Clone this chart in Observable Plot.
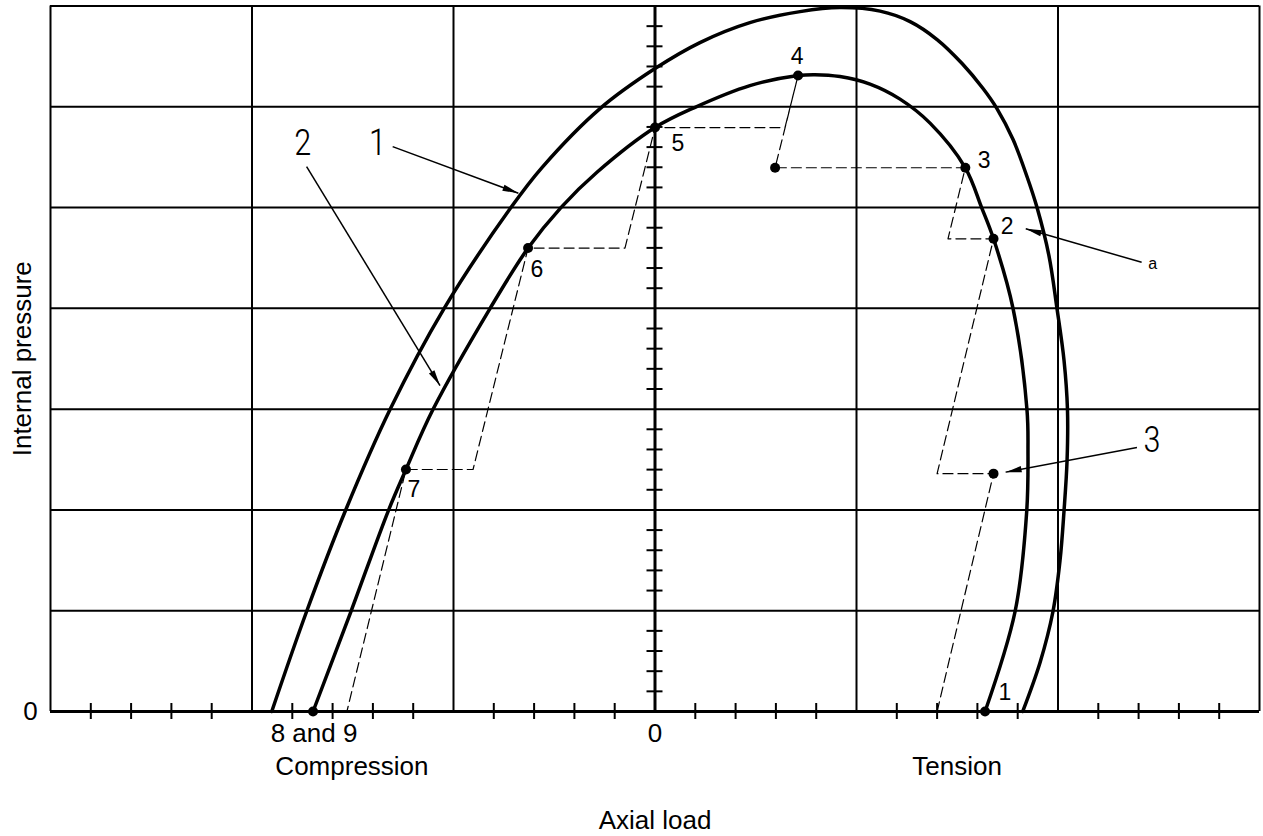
<!DOCTYPE html>
<html>
<head>
<meta charset="utf-8">
<script src="https://cdn.jsdelivr.net/npm/d3@7"></script>
<script src="https://cdn.jsdelivr.net/npm/@observablehq/plot@0.6"></script>
<style>
  html, body { margin: 0; padding: 0; background: #fff; }
  #chart { width: 1263px; height: 836px; }
</style>
</head>
<body>
<div id="chart"></div>
<script>
// ---- data (x: axial load, grid units; y: internal pressure, grid units) ----
const curve1 = [
  [-1.902, 0], [-1.729, 0.992], [-1.536, 1.994], [-1.315, 2.996], [-1.047, 3.998],
  [-0.715, 5.0], [-0.561, 5.397], [-0.273, 5.982], [0, 6.379], [0.223, 6.637],
  [0.471, 6.835], [0.720, 6.944], [0.918, 6.984], [1.117, 6.949], [1.266, 6.845],
  [1.400, 6.667], [1.524, 6.429], [1.628, 6.181], [1.697, 5.982], [1.777, 5.675],
  [1.846, 5.308], [1.896, 5.0], [1.955, 4.524], [1.995, 3.998], [2.030, 3.482],
  [2.047, 2.996], [2.045, 2.490], [2.030, 1.994], [2.010, 1.498], [1.975, 0.992],
  [1.911, 0.486], [1.825, 0]
];
const curve2 = [
  [-1.697, 0], [-1.509, 0.992], [-1.323, 1.994], [-1.236, 2.401], [-1.102, 2.996],
  [-0.819, 3.998], [-0.630, 4.598], [-0.467, 5.0], [-0.288, 5.350], [0, 5.794],
  [0.199, 5.995], [0.471, 6.210], [0.710, 6.310], [0.794, 6.319], [0.918, 6.300],
  [1.067, 6.225], [1.216, 6.076], [1.365, 5.838], [1.540, 5.395], [1.621, 5.0],
  [1.680, 4.69], [1.777, 3.998], [1.846, 2.996], [1.851, 2.589], [1.845, 1.994],
  [1.787, 0.992], [1.638, 0]
];
const loadPath = [
  [1.400, 0], [1.680, 2.36], [1.400, 2.36], [1.680, 4.69], [1.454, 4.69],
  [1.540, 5.395], [0.596, 5.395], [0.710, 6.310], [0.645, 5.794], [0, 5.794],
  [-0.149, 4.598], [-0.630, 4.598], [-0.903, 2.401], [-1.236, 2.401], [-1.529, 0]
];
const pointLabels = ["1", "2", "3", "4", "5", "6", "7"];
const pointsX = [1.638, 1.680, 1.540, 0.710, 0, -0.630, -1.236];
const pointsY = [0, 4.69, 5.395, 6.310, 5.794, 4.598, 2.401];
const labelX = [1.737, 1.747, 1.633, 0.705, 0.114, -0.586, -1.196];
const labelY = [0.188, 4.812, 5.466, 6.498, 5.635, 4.385, 2.202];
const extraDots = [[-1.697, 0], [0.596, 5.395], [1.680, 2.36]];

const leaderText = ["1", "2", "3", "a"];
const leaderTextX = [-1.377, -1.748, 2.467, 2.470];
const leaderTextY = [5.635, 5.635, 2.688, 4.444];
const leaderLines = [
  [-1.302, 5.605, -0.678, 5.142],
  [-1.729, 5.407, -1.067, 3.234],
  [2.392, 2.619, 1.740, 2.375],
  [2.415, 4.457, 1.840, 4.789]
];

const xGrid = [-3, -2, -1, 1, 2, 3];
const yGrid = [1, 2, 3, 4, 5, 6, 7];
const xMinorTicks = [-2.8, -2.6, -2.4, -2.2, -1.8, -1.6, -1.4, -1.2, -0.8, -0.6, -0.4, -0.2,
  0.2, 0.4, 0.6, 0.8, 1.2, 1.4, 1.6, 1.8, 2.2, 2.4, 2.6, 2.8];
const yMinorTicks = [0.2, 0.4, 0.6, 0.8, 1.2, 1.4, 1.6, 1.8, 2.2, 2.4, 2.6, 2.8,
  3.2, 3.4, 3.6, 3.8, 4.2, 4.4, 4.6, 4.8, 5.2, 5.4, 5.6, 5.8, 6.2, 6.4, 6.6, 6.8];

const xAxisLabels = ["8 and 9", "0", "Compression", "Tension", "Axial load"];
const xAxisLabelX = [-1.692, 0, -1.504, 1.499, 0];
const xAxisLabelRow = [22, 22, 55, 55, 109];
const yZeroLabel = "0";
const yAxisTitle = "Internal pressure";

// ---- build ----
const font = "Liberation Sans, Arial, Helvetica, sans-serif";
const points = pointLabels.map((t, i) => ({t, x: pointsX[i], y: pointsY[i], lx: labelX[i], ly: labelY[i]}));
const leaders = leaderText.map((t, i) => ({t, x: leaderTextX[i], y: leaderTextY[i]}));
const links = leaderLines.map(d => ({x1: d[0], y1: d[1], x2: d[2], y2: d[3]}));
const xTexts = xAxisLabels.map((t, i) => ({t, x: xAxisLabelX[i], dy: xAxisLabelRow[i]}));

const chart = Plot.plot({
  width: 1263,
  height: 836,
  marginLeft: 50,
  marginRight: 4,
  marginTop: 5.5,
  marginBottom: 125,
  x: {domain: [-3, 3], axis: null},
  y: {domain: [0, 7], axis: null},
  style: {fontFamily: font, background: "white"},
  marks: [
    Plot.ruleX(xGrid, {x: d => d, y1: 0, y2: 7, stroke: "black", strokeWidth: 2}),
    Plot.ruleY(yGrid, {y: d => d, x1: -3, x2: 3, stroke: "black", strokeWidth: 2}),
    Plot.ruleX(xMinorTicks, {x: d => d, y1: 0, y2: 0, insetTop: -8, insetBottom: -8, stroke: "black", strokeWidth: 2}),
    Plot.ruleY(yMinorTicks, {y: d => d, x1: 0, x2: 0, insetLeft: -8, insetRight: -8, stroke: "black", strokeWidth: 2}),
    Plot.ruleX([0], {x: d => d, y1: 0, y2: 7, stroke: "black", strokeWidth: 3}),
    Plot.ruleY([0], {y: d => d, x1: -3, x2: 3, stroke: "black", strokeWidth: 3}),
    Plot.line(loadPath, {x: d => d[0], y: d => d[1], stroke: "black", strokeWidth: 1.2, strokeDasharray: "10,5"}),
    Plot.line(curve1, {x: d => d[0], y: d => d[1], curve: "catmull-rom", stroke: "black", strokeWidth: 3.5}),
    Plot.line(curve2, {x: d => d[0], y: d => d[1], curve: "catmull-rom", stroke: "black", strokeWidth: 3.5}),
    Plot.dot(points, {x: "x", y: "y", r: 5, fill: "black"}),
    Plot.dot(extraDots, {x: d => d[0], y: d => d[1], r: 5, fill: "black"}),
    Plot.text(points, {x: "lx", y: "ly", text: "t", fontSize: 23, fill: "black"}),
    Plot.link(links, {x1: "x1", y1: "y1", x2: "x2", y2: "y2", stroke: "black", strokeWidth: 1.5}),
    Plot.text(leaders.slice(0, 3), {x: "x", y: "y", text: "t", fontSize: 36, fontWeight: 300,
      fontFamily: "Roboto Condensed, Liberation Sans Narrow, DejaVu Sans Condensed, sans-serif", fill: "black"}),
    Plot.text(leaders.slice(3), {x: "x", y: "y", text: "t", fontSize: 16, fill: "black"}),
    ...xTexts.map(d => Plot.text([d], {x: "x", y: () => 0, text: "t", dy: d.dy, fontSize: 26, fill: "black"})),
    Plot.text([yZeroLabel], {x: () => -3, y: () => 0, text: d => d, dx: -20, fontSize: 26, fill: "black"}),
    Plot.text([yAxisTitle], {x: () => -3, y: () => 3.5, text: d => d, dx: -28, rotate: -90, fontSize: 26, fill: "black"})
  ]
});

// filled arrowheads on leader lines
const svg = d3.select(chart);
const defs = svg.append("defs");
defs.append("marker")
  .attr("id", "ah")
  .attr("markerUnits", "userSpaceOnUse")
  .attr("viewBox", "-17 -4 18 8")
  .attr("markerWidth", 18).attr("markerHeight", 8)
  .attr("refX", 0).attr("refY", 0)
  .attr("orient", "auto")
  .append("path").attr("d", "M0,0L-16,-3.2L-16,3.2Z").attr("fill", "black");
svg.selectAll('g[aria-label="link"] path').attr("marker-end", "url(#ah)");

document.getElementById("chart").appendChild(chart);
</script>
</body>
</html>
